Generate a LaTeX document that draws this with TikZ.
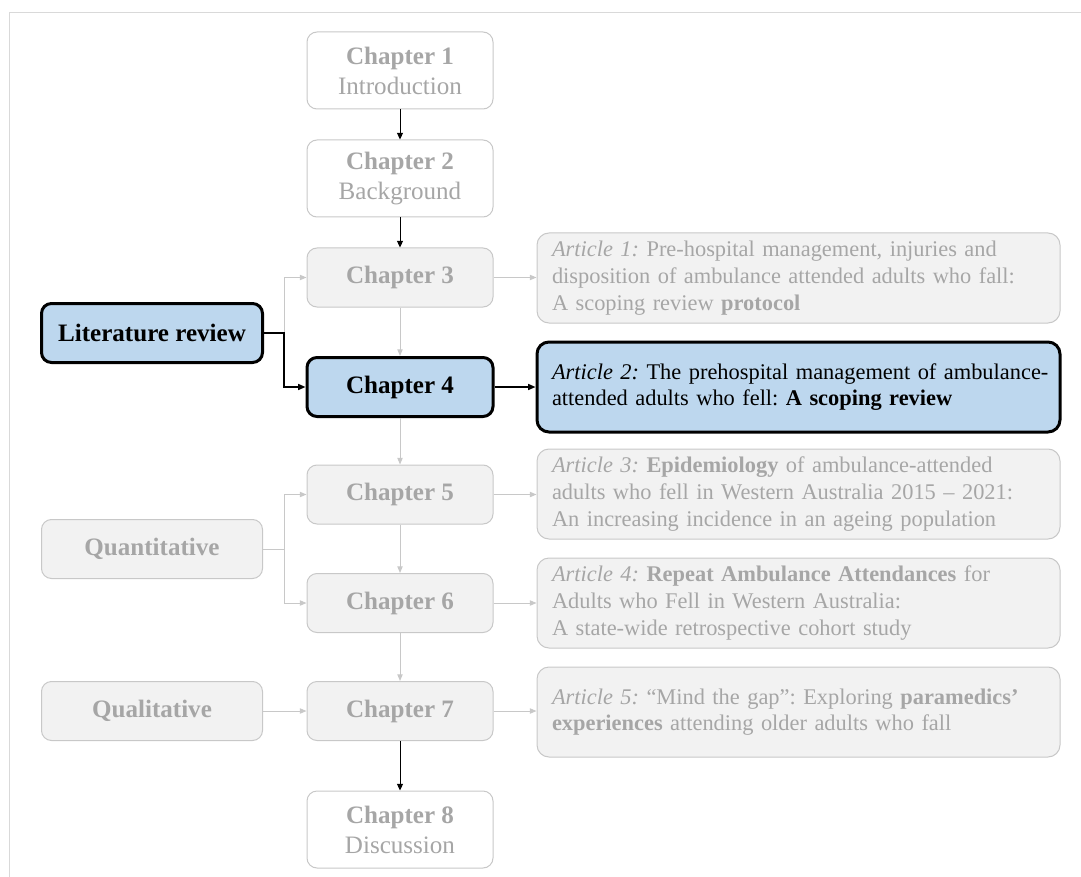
\documentclass[tikz,border=0pt]{standalone}
\usepackage{fontspec}
\setmainfont{Liberation Serif}
\usetikzlibrary{arrows.meta}
\definecolor{boxfill}{HTML}{F2F2F2}
\definecolor{boxline}{HTML}{C8C8C8}
\definecolor{dimtext}{HTML}{A6A6A6}
\definecolor{hlfill}{HTML}{BDD7EE}
\definecolor{framecol}{HTML}{D9D9D9}
\definecolor{linkgray}{HTML}{C8C8C8}
\frenchspacing

\begin{document}
\begin{tikzpicture}[x=0.75pt,y=-0.75pt,
  base/.style={rounded corners=7.5pt, align=center, inner sep=0pt,
    font=\fontsize{18.8}{22.5}\selectfont},
  chapbox/.style={base, draw=boxline, line width=0.75pt, fill=boxfill,
    text=dimtext, minimum width=139.5pt, minimum height=44.25pt},
  openbox/.style={chapbox, fill=white, minimum height=57.75pt},
  sidebox/.style={base, draw=boxline, line width=0.75pt, fill=boxfill,
    text=dimtext, minimum width=165.75pt, minimum height=44.25pt,
    font=\fontsize{18.8}{22.5}\selectfont\bfseries},
  hlchap/.style={chapbox, draw=black, line width=2.25pt, fill=hlfill, text=black},
  hlside/.style={sidebox, draw=black, line width=2.25pt, fill=hlfill, text=black},
  artbox/.style={rounded corners=9pt, draw=boxline, line width=0.75pt, fill=boxfill,
    text=dimtext, align=left, inner xsep=11.25pt, inner ysep=0pt,
    text width=369.75pt, minimum height=67.5pt,
    font=\fontsize{16.8}{20}\selectfont\frenchspacing},
  hlart/.style={artbox, draw=black, line width=2.25pt, fill=hlfill, text=black},
  darklink/.style={draw=black, line width=0.75pt, -{Triangle[length=5pt,width=4.5pt]}},
  boldlink/.style={draw=black, line width=1.1pt, -{Triangle[length=5.5pt,width=4.5pt]}},
  greylink/.style={draw=linkgray, line width=0.75pt, -{Triangle[length=5pt,width=4pt]}},
]
% page area and the partial frame along the top and left edges
\useasboundingbox (0,0) rectangle (1081,877);
\coordinate (ftr) at (1081,12.3);
\coordinate (ftl) at (9.3,12.3);
\coordinate (fbl) at (9.3,877);
\draw[framecol, line width=0.75pt] (ftr) -- (ftl) -- (fbl);

% chapter column
\node[openbox] (ch1) at (400,70.5) {\textbf{Chapter 1}\\Introduction};
\node[openbox] (ch2) at (400,178.5) {\textbf{Chapter 2}\\Background};
\node[chapbox] (ch3) at (400,277.5) {\textbf{Chapter 3}};
\node[hlchap]  (ch4) at (400,387) {\textbf{Chapter 4}};
\node[chapbox] (ch5) at (400,494.5) {\textbf{Chapter 5}};
\node[chapbox] (ch6) at (400,603) {\textbf{Chapter 6}};
\node[chapbox] (ch7) at (400,711) {\textbf{Chapter 7}};
\node[openbox] (ch8) at (400,829.5) {\textbf{Chapter 8}\\Discussion};

% method boxes on the left
\node[hlside]  (lit)   at (152,333) {Literature review};
\node[sidebox] (quant) at (152,549) {Quantitative};
\node[sidebox] (qual)  at (152,711) {Qualitative};

% articles on the right (each printed line kept whole)
\node[artbox] (art1) at (798.5,278) {\mbox{\textit{Article 1:} Pre-hospital management, injuries and}\\\mbox{disposition of ambulance attended adults who fall:}\\A scoping review \textbf{protocol}};
\node[hlart] (art2) at (798.5,387) {\mbox{\textit{Article 2:} The prehospital management of ambulance-}\\\mbox{attended adults who fell: \textbf{A scoping review}}};
\node[artbox] (art3) at (798.5,494) {\mbox{\textit{Article 3:} \textbf{Epidemiology} of ambulance-attended}\\\mbox{adults who fell in Western Australia 2015 -- 2021:}\\\mbox{An increasing incidence in an ageing population}};
\node[artbox] (art4) at (798.5,603) {\mbox{\textit{Article 4:} \textbf{Repeat Ambulance Attendances} for}\\\mbox{Adults who Fell in Western Australia:}\\\mbox{A state-wide retrospective cohort study}};
\node[artbox] (art5) at (798.5,712) {\mbox{\textit{Article 5:} ``Mind the gap'': Exploring \textbf{paramedics'}}\\\mbox{\textbf{experiences} attending older adults who fall}};

% junction points of the branching links
\coordinate (jl) at (284,333);
\coordinate (jq) at (284,549);

% grey links
\draw[greylink] (ch3) -- (ch4);
\draw[greylink] (ch4) -- (ch5);
\draw[greylink] (ch5) -- (ch6);
\draw[greylink] (ch6) -- (ch7);
\draw[greylink] (lit.east) -- (jl) |- (ch3.west);
\draw[greylink] (quant.east) -- (jq) |- (ch5.west);
\draw[greylink] (jq) |- (ch6.west);
\draw[greylink] (qual) -- (ch7);
\draw[greylink] (ch3.east) -- (ch3.east -| art1.west);
\draw[greylink] (ch5.east) -- (ch5.east -| art3.west);
\draw[greylink] (ch6.east) -- (ch6.east -| art4.west);
\draw[greylink] (ch7.east) -- (ch7.east -| art5.west);

% dark links
\draw[darklink] (ch1) -- (ch2);
\draw[darklink] (ch2) -- (ch3);
\draw[darklink] (ch7) -- (ch8);
\draw[boldlink] (lit.east) -- (jl) |- (ch4.west);
\draw[boldlink] (ch4.east) -- (ch4.east -| art2.west);
\end{tikzpicture}
\end{document}
